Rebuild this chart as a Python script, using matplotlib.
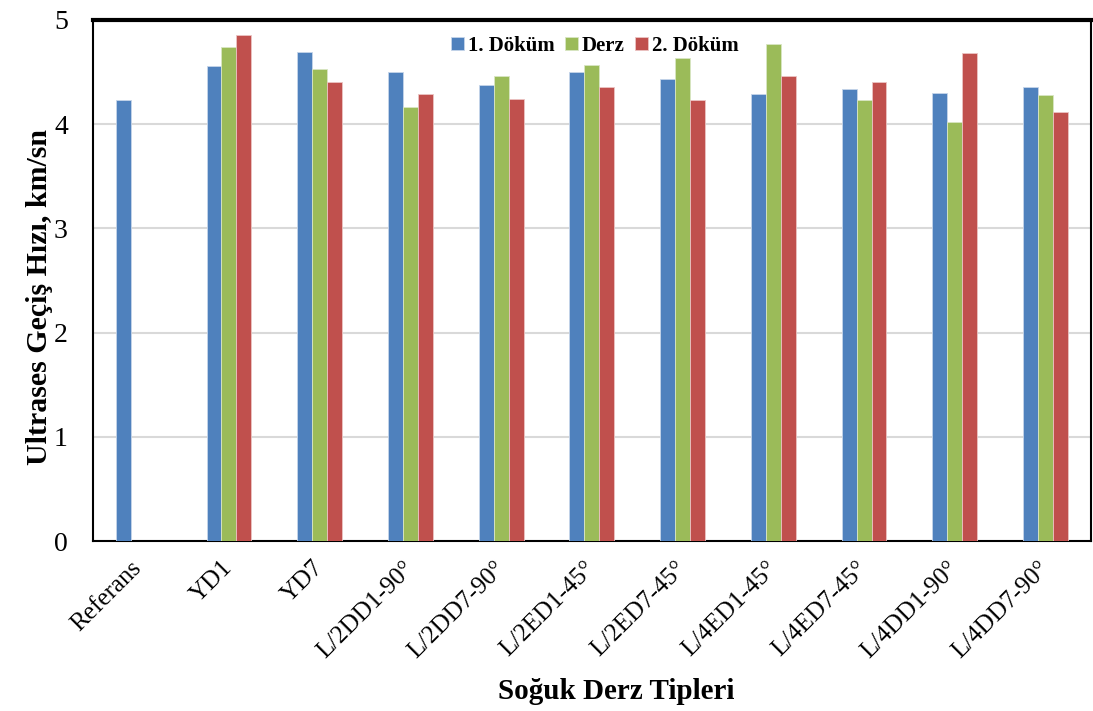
import numpy as np
import matplotlib.pyplot as plt

plt.rcParams['font.family'] = ['Liberation Serif', 'DejaVu Serif']

categories = ["Referans", "YD1", "YD7", "L/2DD1-90°", "L/2DD7-90°", "L/2ED1-45°",
              "L/2ED7-45°", "L/4ED1-45°", "L/4ED7-45°", "L/4DD1-90°", "L/4DD7-90°"]
dokum1 = [4.23, 4.56, 4.69, 4.50, 4.38, 4.50, 4.43, 4.29, 4.34, 4.30, 4.36]
derz = [np.nan, 4.74, 4.53, 4.16, 4.46, 4.57, 4.63, 4.77, 4.23, 4.02, 4.28]
dokum2 = [np.nan, 4.86, 4.40, 4.29, 4.24, 4.36, 4.23, 4.46, 4.40, 4.68, 4.12]

fig = plt.figure(figsize=(10.93, 7.11), dpi=100)
ax = fig.add_axes([0.085, 0.239, 0.913, 0.733])

x = np.arange(len(categories))
w = 0.165
ax.bar(x - w, dokum1, w, color="#4F81BD", edgecolor="#C6D5EA", linewidth=0.6, label="1. Döküm", zorder=3)
ax.bar(x, derz, w, color="#9BBB59", edgecolor="#D9E6C3", linewidth=0.6, label="Derz", zorder=3)
ax.bar(x + w, dokum2, w, color="#C0504D", edgecolor="#EBC4C3", linewidth=0.6, label="2. Döküm", zorder=3)

ax.set_xlim(-0.5, len(categories) - 0.5)
ax.set_ylim(0, 5)
ax.set_yticks([0, 1, 2, 3, 4, 5])
ax.yaxis.grid(True, color="#D9D9D9", linewidth=1.5, zorder=0)
ax.set_xticks(x)
ax.set_xticklabels(categories, rotation=45, ha="right", va="center", rotation_mode="anchor", fontsize=18)
ax.tick_params(axis="y", labelsize=20, length=0, pad=18)
ax.tick_params(axis="x", length=0, pad=17)

for s in ax.spines.values():
    s.set_linewidth(1.5)
ax.spines["top"].set_linewidth(3)

ax.set_ylabel("Ultrases Geçiş Hızı, km/sn", fontsize=21.5, fontweight="bold")
ax.yaxis.set_label_coords(-0.040, 0.468)
ax.set_xlabel("Soğuk Derz Tipleri", fontsize=21, fontweight="bold")
ax.xaxis.set_label_coords(0.524, -0.262)

ax.legend(loc="upper center", bbox_to_anchor=(0.503, 1.005), ncol=3, frameon=False,
          prop={"weight": "bold", "size": 15}, handlelength=0.6, handleheight=0.6,
          handletextpad=0.2, columnspacing=0.5)

plt.savefig("out.png", dpi=100)
